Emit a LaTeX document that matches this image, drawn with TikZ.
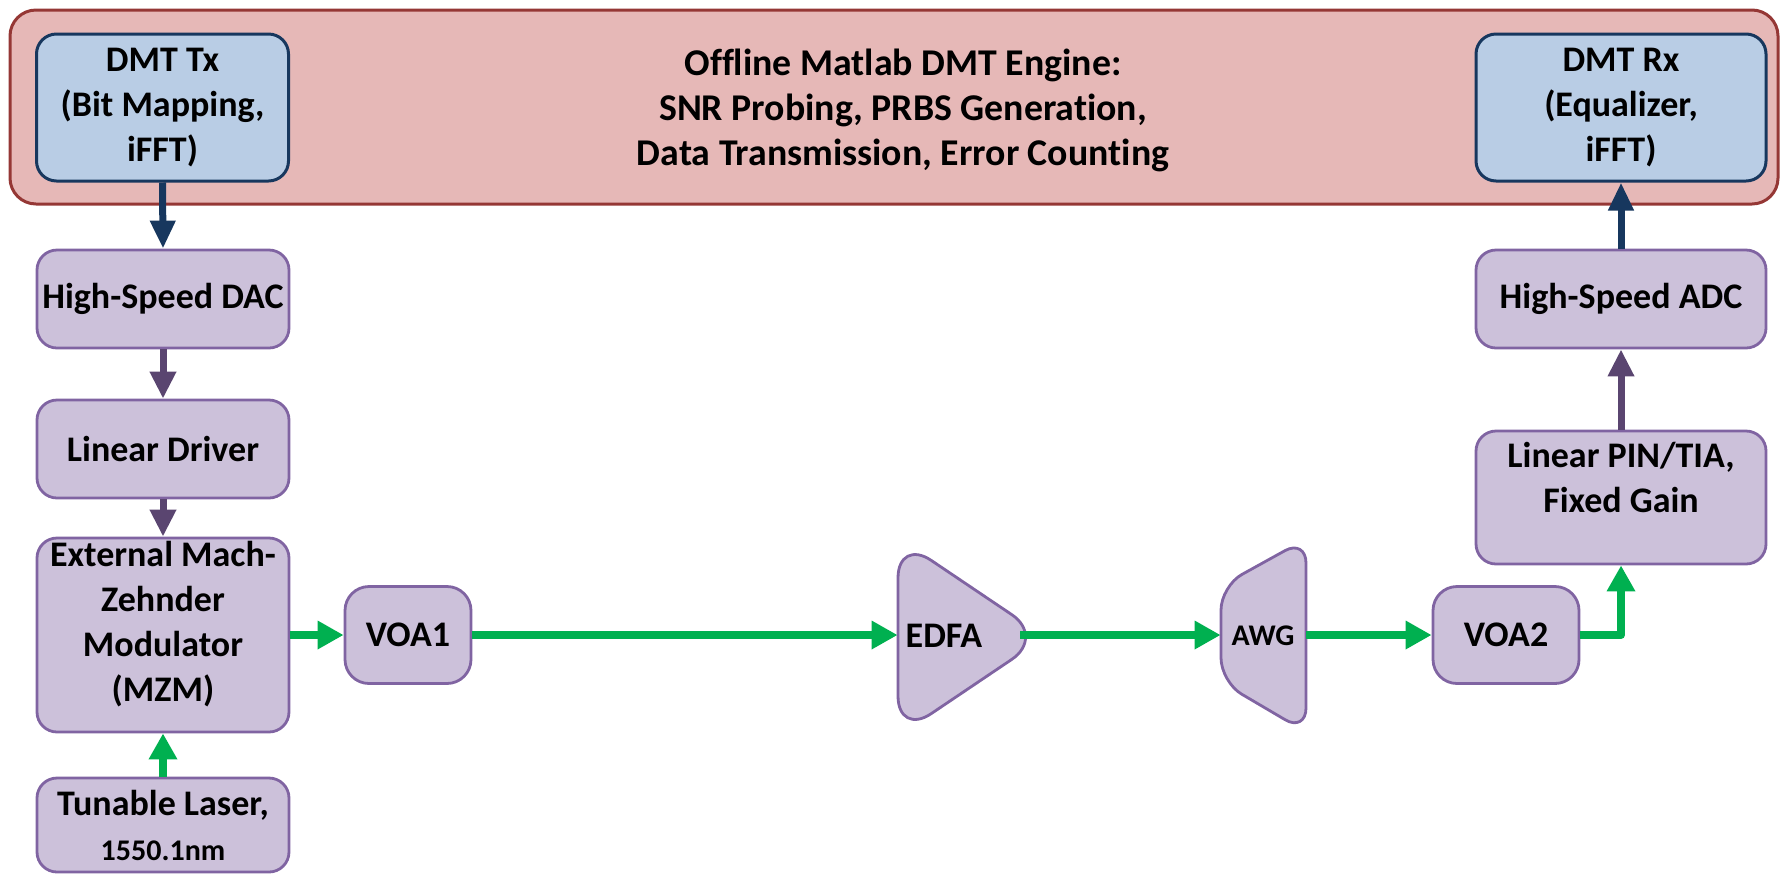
\documentclass[tikz,border=0pt]{standalone}
\usepackage{fontspec}
\setmainfont{Carlito}[Ligatures=NoCommon]
\usetikzlibrary{arrows.meta}
\definecolor{engfill}{HTML}{E6B8B7}
\definecolor{engdraw}{HTML}{953735}
\definecolor{dspfill}{HTML}{B9CDE5}
\definecolor{dspdraw}{HTML}{17375E}
\definecolor{blkfill}{HTML}{CCC1DA}
\definecolor{blkdraw}{HTML}{8064A2}
\definecolor{elecpurple}{HTML}{5A4570}
\definecolor{optgreen}{HTML}{00B050}
\definecolor{navyline}{HTML}{17375E}
\begin{document}
\begin{tikzpicture}[x=0.5pt,y=-0.5pt,
  lbl/.style={font=\bfseries\fontsize{18pt}{22.5pt}\selectfont, align=center, text=black},
  small/.style={font=\bfseries\fontsize{15pt}{18pt}\selectfont, align=center, text=black},
  dsp/.style={lbl, draw=dspdraw, fill=dspfill, line width=1.5pt, rounded corners=10pt, inner sep=0pt},
  blk/.style={lbl, draw=blkdraw, fill=blkfill, line width=1.4pt, rounded corners=10pt, inner sep=0pt},
  blkshape/.style={draw=blkdraw, fill=blkfill, line width=1.4pt, line join=round},
  fiber/.style={draw=optgreen, line width=4pt, line join=round, -{Triangle[length=13pt,width=13.5pt]}},
  elec/.style={draw=elecpurple, line width=3.5pt, -{Triangle[length=13.5pt,width=12.5pt]}},
  digi/.style={draw=navyline, line width=3.5pt, -{Triangle[length=14pt,width=12pt]}},
]
\useasboundingbox (0,0) rectangle (1781,874);

% offline DSP engine
\node[draw=engdraw, fill=engfill, line width=1.5pt, rounded corners=13pt,
      minimum width=884pt, minimum height=97pt, inner sep=0pt] (engine) at (894,107) {};
\node[lbl, font=\bfseries\fontsize{18.9pt}{22.5pt}\selectfont] (title) at (903,110) {Offline Matlab DMT Engine:\\SNR Probing, PRBS Generation,\\Data Transmission, Error Counting};
\node[dsp, minimum width=126pt, minimum height=73.5pt] (tx) at (162.5,107.5) {DMT Tx\\(Bit Mapping,\\iFFT)};
\node[dsp, minimum width=145pt, minimum height=73.5pt] (rx) at (1621,107.5) {DMT Rx\\(Equalizer,\\iFFT)};

% transmitter chain
\node[blk, minimum width=126pt, minimum height=49pt] (dac) at (163,299) {High-Speed DAC};
\node[blk, minimum width=126pt, minimum height=49pt] (drv) at (163,449) {Linear Driver};
\node[blk, minimum width=126pt, minimum height=97pt] (mzm) at (163,635) {};
\node[lbl] (mzmtext) at (163,624) {External Mach-\\Zehnder\\Modulator\\(MZM)};
\node[blk, minimum width=126pt, minimum height=47pt] (laser) at (163,825) {Tunable Laser,\\{\fontsize{15pt}{18pt}\selectfont 1550.1nm}};
\node[blk, minimum width=63pt, minimum height=48.5pt, rounded corners=12pt] (voa1) at (408,635) {VOA1};

% EDFA (rounded triangle)
\node[minimum width=61pt, minimum height=79pt, inner sep=0pt] (edfa) at (959,635) {};
\draw[blkshape, rounded corners=20pt] (898,637) -- (898,538) -- (1045,637) -- (898,736) -- cycle;
\node[lbl] (edfatext) at (944,636) {EDFA};

% AWG (trapezoid)
\node[minimum width=42.5pt, minimum height=82pt, inner sep=0pt] (awg) at (1263.5,635) {};
\draw[blkshape, rounded corners=12pt] (1221,635) -- (1221,586) -- (1306,539) -- (1306,732) -- (1221,682) -- cycle;
\node[small] (awgtext) at (1263,636) {AWG};

% receiver chain
\node[blk, minimum width=73pt, minimum height=48.5pt, rounded corners=12pt] (voa2) at (1506,635) {VOA2};
\node[blk, minimum width=145pt, minimum height=66.5pt] (pin) at (1621,497.5) {};
\node[lbl] (pintext) at (1621,477) {Linear PIN/TIA,\\Fixed Gain};
\node[blk, minimum width=145pt, minimum height=49pt] (adc) at (1621,299) {High-Speed ADC};

% connectors
\draw[digi] (tx.south) -- (dac.north);
\draw[elec] (dac.south) -- (drv.north);
\draw[elec] (drv.south) -- (mzm.north);
\draw[fiber] (laser.north) -- (mzm.south);
\draw[fiber] (mzm.east) -- (voa1.west);
\draw[fiber] (voa1.east) -- (edfa.west);
\draw[fiber] (edfa.east) -- (awg.west);
\draw[fiber] (awg.east) -- (voa2.west);
\draw[fiber] (voa2.east) -| (pin.south);
\draw[elec] (pin.north) -- (adc.south);
\draw[digi] (adc.north) -- (rx.south);
\end{tikzpicture}
\end{document}
